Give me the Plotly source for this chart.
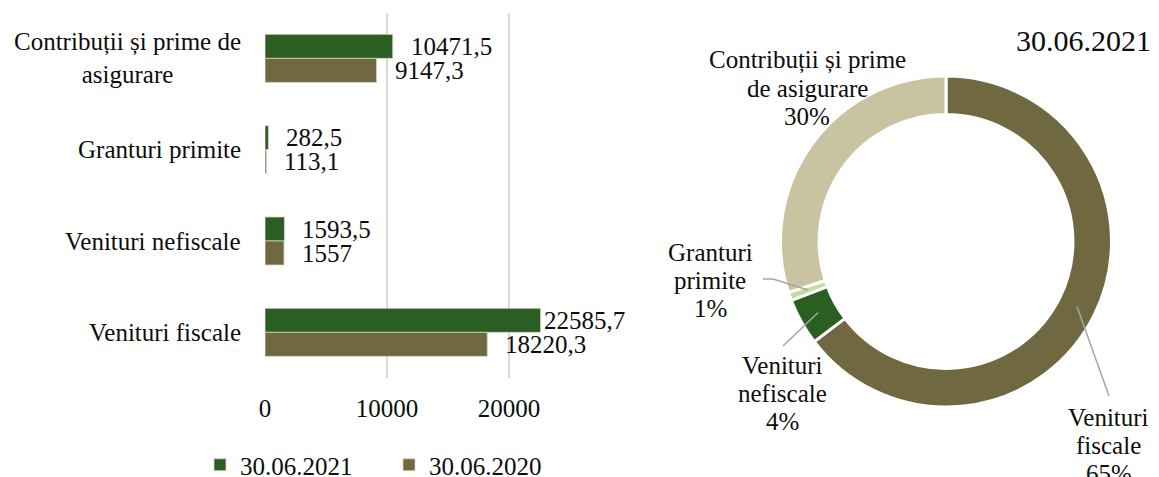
import math
import plotly.graph_objects as go

W, H = 1159, 477
FONT = "Liberation Serif, Times New Roman, serif"
TXT = "#0d0d0d"

# ---------------- data ----------------
categories = ["Contribuții și prime de asigurare", "Granturi primite",
              "Venituri nefiscale", "Venituri fiscale"]
category_labels = ["Contribuții și prime de<br>asigurare", "Granturi primite",
                   "Venituri nefiscale", "Venituri fiscale"]
series_names = ["30.06.2021", "30.06.2020"]
values_2021 = [10471.5, 282.5, 1593.5, 22585.7]
values_2020 = [9147.3, 113.1, 1557, 18220.3]
x_tick_values = [0, 10000, 20000]

pie_title = "30.06.2021"
pie_labels = ["Venituri fiscale", "Venituri nefiscale", "Granturi primite",
              "Contribuții și prime de asigurare"]
pie_values = [22585.7, 1593.5, 282.5, 10471.5]
pie_text_lines = [["Venituri", "fiscale"], ["Venituri", "nefiscale"],
                  ["Granturi", "primite"], ["Contribuții și prime", "de asigurare"]]
pie_pct_labels = ["65%", "4%", "1%", "30%"]

# ---------------- styles ----------------
bar_colors = ["#2a5e23", "#706841"]
pie_colors = ["#706841", "#2a5e23", "#c5dba0", "#c8c3a0"]


def px(x):
    return x / W


def py(y):
    return 1 - y / H


def fmt(v):
    return f"{v:g}".replace(".", ",")


fig = go.Figure()
for name, vals, col in zip(series_names, [values_2021, values_2020], bar_colors):
    fig.add_trace(go.Bar(
        y=categories, x=vals, name=name, orientation="h",
        marker=dict(color=col, line=dict(color="#d8d6c4", width=0.8)),
        hoverinfo="x+name",
    ))

annotations = []
# bar value labels
label_xshift = [[16, 16, 16, 1], [16, 16, 16, 16]]
for si, vals in enumerate([values_2021, values_2020]):
    for ci, (cat, v) in enumerate(zip(categories, vals)):
        annotations.append(dict(
            x=v, y=cat, xref="x", yref="y", text=fmt(v), showarrow=False,
            xanchor="left", yanchor="middle", xshift=label_xshift[si][ci],
            yshift=12 if si == 0 else -12,
            font=dict(family=FONT, size=25, color=TXT)))

# category labels
for cat, lab in zip(categories, category_labels):
    annotations.append(dict(
        x=px(243), y=cat, xref="paper", yref="y", text=lab, showarrow=False,
        xanchor="right", yanchor="middle", align="center",
        font=dict(family=FONT, size=25, color=TXT)))

# ---------------- pie ----------------
cx, cy, R = 946, 241.5, 165.5
hole = 0.767
fig.add_trace(go.Pie(
    labels=pie_labels, values=pie_values, sort=False, direction="clockwise",
    rotation=0, hole=hole, textinfo="none", showlegend=False,
    marker=dict(colors=pie_colors, line=dict(color="white", width=3)),
    domain=dict(x=[px(cx - R), px(cx + R)], y=[py(cy + R), py(cy - R)]),
))

# pie label text positions (centre x, first line y) and leader-line outer points
label_pos = [(1108.5, 417), (782, 365), (710, 252), (807, 60)]
leader_outer = [[(1109, 396)], [(783, 346)], [(763, 279), (773, 279)], None]
LINE_SP = 28

total = sum(pie_values)
cum = 0
r_mid = R * (1 + hole) / 2
shapes = []
for i, v in enumerate(pie_values):
    mid = (cum + v / 2) / total * 2 * math.pi
    cum += v
    lx, ly = label_pos[i]
    lines = pie_text_lines[i] + [pie_pct_labels[i]]
    for k, t in enumerate(lines):
        annotations.append(dict(
            x=px(lx), y=py(ly + k * LINE_SP), xref="paper", yref="paper",
            text=t, showarrow=False, xanchor="center", yanchor="middle",
            font=dict(family=FONT, size=25, color=TXT)))
    if leader_outer[i]:
        ix = cx + r_mid * math.sin(mid)
        iy = cy - r_mid * math.cos(mid)
        pts = leader_outer[i] + [(ix, iy)]
        path = "M " + " L ".join(f"{px(a):.5f},{py(b):.5f}" for a, b in pts)
        shapes.append(dict(type="path", path=path, xref="paper", yref="paper",
                           line=dict(color="#a6a6a6", width=1.5)))

annotations.append(dict(
    x=px(1153), y=py(40), xref="paper", yref="paper", text=pie_title,
    showarrow=False, xanchor="right", yanchor="middle",
    font=dict(family=FONT, size=30, color=TXT)))

fig.update_layout(
    width=W, height=H, autosize=False,
    margin=dict(l=0, r=0, t=0, b=0, autoexpand=False),
    paper_bgcolor="white", plot_bgcolor="white",
    barmode="group", bargap=0.474, bargroupgap=0,
    font=dict(family=FONT, size=25, color=TXT),
    xaxis=dict(domain=[px(265), px(570)], range=[0, 25000],
               tickvals=x_tick_values, ticktext=[str(t) for t in x_tick_values],
               showgrid=True, gridcolor="#d9d9d9", gridwidth=1.5,
               zeroline=False, showline=False,
               ticks="outside", ticklen=8, tickcolor="rgba(0,0,0,0)",
               tickfont=dict(family=FONT, size=25, color=TXT), fixedrange=True),
    yaxis=dict(domain=[py(378), py(12.7)], autorange="reversed",
               showticklabels=False, showgrid=False, zeroline=False,
               showline=False, fixedrange=True),
    legend=dict(orientation="h", x=px(200), y=py(465), xanchor="left",
                yanchor="middle", font=dict(family=FONT, size=25, color=TXT),
                entrywidth=144, entrywidthmode="pixels",
                bgcolor="rgba(0,0,0,0)"),
    annotations=annotations,
    shapes=shapes,
)

fig.write_html("out.html", config=dict(displayModeBar=False),
               post_script="document.body.style.margin='0px';document.body.style.overflow='hidden';")
